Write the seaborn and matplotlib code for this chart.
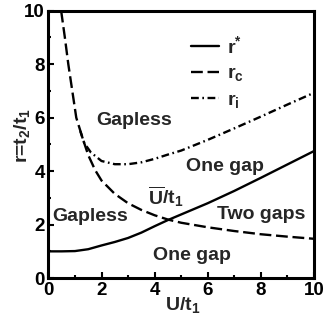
import matplotlib
matplotlib.use("Agg")
import matplotlib.pyplot as plt
from matplotlib.ticker import MultipleLocator
import seaborn as sns

# Phase boundaries r(U/t1)
u_star = [0.0, 0.5, 1.0, 1.5, 2.0, 2.5, 3.0, 3.5, 4.0, 4.5, 5.0, 6.0, 7.0, 8.0, 9.0, 10.0]
r_star = [1.0, 1.0, 1.01, 1.08, 1.22, 1.35, 1.5, 1.7, 1.94, 2.17, 2.38, 2.8, 3.26, 3.75, 4.25, 4.75]

u_c = [0.48, 0.62, 0.75, 0.9, 1.05, 1.3, 1.5, 1.76, 2.0, 2.5, 3.0, 3.5, 4.0, 4.5,
       5.0, 6.0, 7.0, 8.0, 9.0, 10.0]
r_c = [10.0, 9.0, 8.0, 7.0, 6.0, 5.2, 4.6, 4.04, 3.65, 3.15, 2.8, 2.55, 2.35, 2.19,
       2.07, 1.9, 1.76, 1.64, 1.55, 1.47]

u_i = [1.2, 1.35, 1.6, 2.0, 2.5, 3.0, 3.5, 4.0, 4.5, 5.0, 6.0, 7.0, 8.0, 9.0, 10.0]
r_i = [5.5, 5.05, 4.7, 4.38, 4.26, 4.26, 4.33, 4.46, 4.62, 4.77, 5.17, 5.6, 6.04, 6.49, 6.93]

curve_labels = [r"r$^{*}$", r"r$_c$", r"r$_i$"]

x_ticks = [0, 2, 4, 6, 8, 10]
y_ticks = [0, 2, 4, 6, 8, 10]

sns.set_style("ticks")
plt.rcParams.update({
    "font.family": ["Liberation Sans", "DejaVu Sans"],
    "font.weight": "bold",
    "axes.labelweight": "bold",
    "mathtext.fontset": "custom",
    "mathtext.rm": "Liberation Sans:bold",
    "mathtext.it": "Liberation Sans:bold",
    "mathtext.bf": "Liberation Sans:bold",
    "mathtext.sf": "Liberation Sans:bold",
    "axes.edgecolor": "black",
    "axes.linewidth": 2.2,
})

fig = plt.figure(figsize=(3.27, 3.26), dpi=100)
ax = fig.add_axes([0.148, 0.147, 0.812, 0.820])

sns.lineplot(x=u_star, y=r_star, ax=ax, color="black", lw=1.7,
             label=curve_labels[0])
sns.lineplot(x=u_c, y=r_c, ax=ax, color="black", lw=1.7,
             linestyle=(0, (5, 2)), label=curve_labels[1])
sns.lineplot(x=u_i, y=r_i, ax=ax, color="black", lw=1.7,
             linestyle=(0, (3.3, 1.5, 0.7, 1.5)), label=curve_labels[2])

ax.set_xlim(0, 10)
ax.set_ylim(0, 10)
ax.set_xticks(x_ticks)
ax.set_yticks(y_ticks)
ax.xaxis.set_minor_locator(MultipleLocator(1))
ax.yaxis.set_minor_locator(MultipleLocator(1))
ax.tick_params(which="both", direction="in", top=False, right=False,
               width=1.5, colors="black", labelsize=13.5)
ax.tick_params(which="major", length=4.5, pad=2.5)
ax.tick_params(which="minor", length=2.5)
for s in ax.spines.values():
    s.set_visible(True)
    s.set_linewidth(2.2)

ax.set_xlabel(r"U/t$_1$", fontsize=14)
ax.set_ylabel(r"r=t$_2$/t$_1$", fontsize=14)
ax.xaxis.set_label_coords(0.506, -0.062)
ax.yaxis.set_label_coords(-0.062, 0.535)

# Region names
txt = dict(fontsize=14, fontweight="bold", ha="center", va="center")
ax.text(3.22, 5.9, "Gapless", **txt)
ax.text(1.57, 2.3, "Gapless", **txt)
ax.text(6.64, 4.18, "One gap", **txt)
ax.text(8.0, 2.36, "Two gaps", **txt)
ax.text(5.4, 0.84, "One gap", **txt)
ax.text(4.43, 3.03, r"$\overline{U}$/t$_1$", **txt)

ax.legend(loc="upper left", bbox_to_anchor=(0.485, 0.96), frameon=False,
          fontsize=14, handlelength=1.45, handletextpad=0.4, labelspacing=0.4,
          borderpad=0.2)

fig.savefig("out.png", dpi=100)
